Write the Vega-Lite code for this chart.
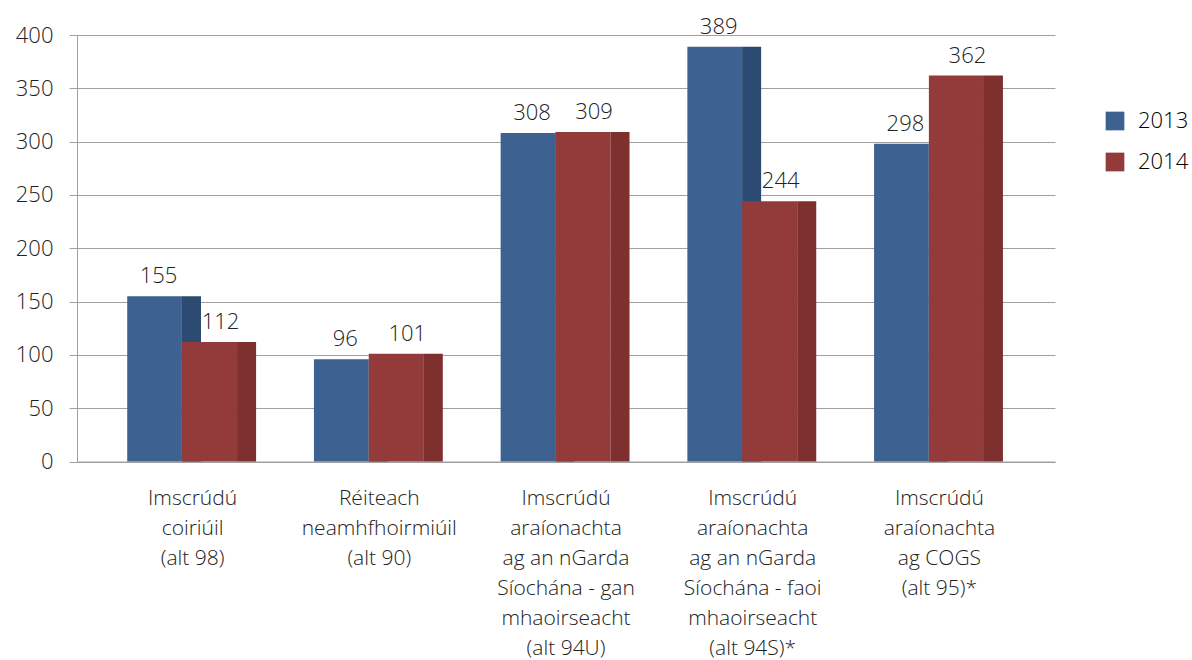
{
  "$schema": "https://vega.github.io/schema/vega-lite/v6.json",
  "autosize": "none",
  "width": 978,
  "height": 426.5,
  "padding": {"left": 77, "top": 35, "right": 137, "bottom": 198.5},
  "background": "white",
  "config": {
    "font": "Open Sans",
    "view": {"stroke": null},
    "axis": {"labelFont": "Open Sans", "labelFontWeight": 300, "labelColor": "#222222", "domainColor": "#a0a0a0", "gridColor": "#a0a0a0", "tickColor": "#a0a0a0"},
    "legend": {"labelFont": "Open Sans", "labelFontWeight": 300}
  },
  "data": {
    "values": [
      {"cat": "Imscrúdú|coiriúil|(alt 98)", "year": "2013", "value": 155},
      {"cat": "Imscrúdú|coiriúil|(alt 98)", "year": "2014", "value": 112},
      {"cat": "Réiteach|neamhfhoirmiúil|(alt 90)", "year": "2013", "value": 96},
      {"cat": "Réiteach|neamhfhoirmiúil|(alt 90)", "year": "2014", "value": 101},
      {"cat": "Imscrúdú|araíonachta|ag an nGarda|Síochána - gan|mhaoirseacht|(alt 94U)", "year": "2013", "value": 308},
      {"cat": "Imscrúdú|araíonachta|ag an nGarda|Síochána - gan|mhaoirseacht|(alt 94U)", "year": "2014", "value": 309},
      {"cat": "Imscrúdú|araíonachta|ag an nGarda|Síochána - faoi|mhaoirseacht|(alt 94S)*", "year": "2013", "value": 389},
      {"cat": "Imscrúdú|araíonachta|ag an nGarda|Síochána - faoi|mhaoirseacht|(alt 94S)*", "year": "2014", "value": 244},
      {"cat": "Imscrúdú|araíonachta|ag COGS|(alt 95)*", "year": "2013", "value": 298},
      {"cat": "Imscrúdú|araíonachta|ag COGS|(alt 95)*", "year": "2014", "value": 362}
    ]
  },
  "encoding": {
    "x": {
      "field": "cat", "type": "nominal", "sort": null, "title": null,
      "scale": {"paddingInner": 0, "paddingOuter": 0.119},
      "axis": {
        "labelExpr": "split(datum.value, '|')",
        "labelAngle": 0, "labelFontSize": 21, "labelLineHeight": 30,
        "labelPadding": 26, "labelBaseline": "top", "ticks": false,
        "grid": false, "domain": true, "labelLimit": 0
      }
    },
    "y": {
      "field": "value", "type": "quantitative", "title": null,
      "scale": {"domain": [0, 400], "nice": false},
      "axis": {"values": [0, 50, 100, 150, 200, 250, 300, 350, 400], "labelFontSize": 22, "tickSize": 8, "labelPadding": 16, "grid": true, "domain": true}
    }
  },
  "layer": [
    {
      "transform": [{"filter": "datum.year === '2013'"}],
      "mark": {"type": "bar", "width": {"band": 0.293}, "xOffset": -38},
      "encoding": {
        "color": {
          "field": "year", "type": "nominal", "title": null,
          "scale": {"domain": ["2013", "2014"], "range": ["#3d6190", "#923b3a"]},
          "legend": {
            "orient": "none", "legendX": 1027, "legendY": 75, "labelFontSize": 22, "symbolType": "square",
            "symbolSize": 350, "symbolStrokeWidth": 0, "rowPadding": 19, "labelOffset": 12,
            "padding": 0,
            "encode": {"symbols": {"update": {"fill": {"signal": "datum.value === '2013' ? '#4a74a8' : '#a8443f'"}, "stroke": {"value": null}}}}
          }
        }
      }
    },
    {
      "transform": [{"filter": "datum.year === '2013'"}],
      "mark": {"type": "bar", "width": {"band": 0.102}, "xOffset": -1.1, "color": "#2d4b72"}
    },
    {
      "transform": [{"filter": "datum.year === '2014'"}],
      "mark": {"type": "bar", "width": {"band": 0.295}, "xOffset": 17},
      "encoding": {"color": {"field": "year", "type": "nominal"}}
    },
    {
      "transform": [{"filter": "datum.year === '2014'"}],
      "mark": {"type": "bar", "width": {"band": 0.102}, "xOffset": 54, "color": "#7d302e"}
    },
    {
      "transform": [{"filter": "datum.year === '2013'"}],
      "mark": {"type": "text", "dx": -34, "dy": -13, "baseline": "alphabetic", "fontSize": 22, "fontWeight": 300, "color": "#222222"},
      "encoding": {"text": {"field": "value", "type": "quantitative"}}
    },
    {
      "transform": [{"filter": "datum.year === '2014'"}],
      "mark": {"type": "text", "dx": 28, "dy": -13, "baseline": "alphabetic", "fontSize": 22, "fontWeight": 300, "color": "#222222"},
      "encoding": {"text": {"field": "value", "type": "quantitative"}}
    }
  ]
}
